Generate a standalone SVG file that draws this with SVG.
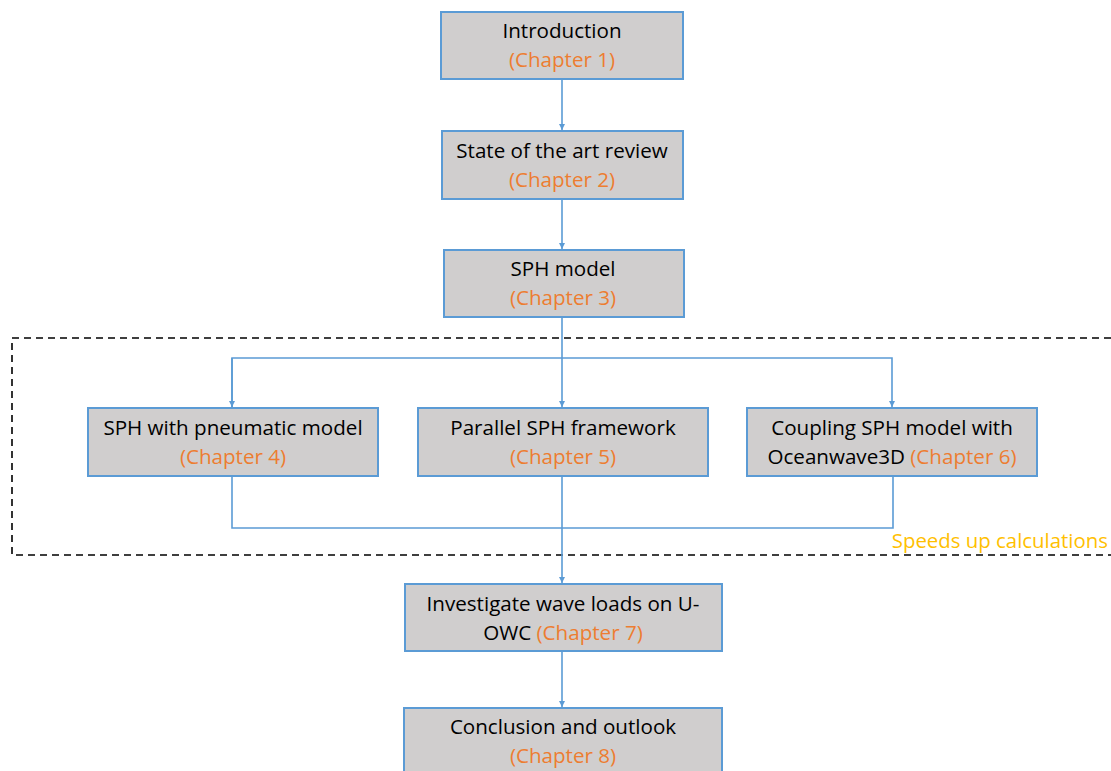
<svg xmlns="http://www.w3.org/2000/svg" width="1111" height="771" viewBox="0 0 1111 771">
<style>
.box{fill:#D0CECE;stroke:#5B9BD5;stroke-width:2}
.t{font-family:"Open Sans","Liberation Sans",sans-serif;font-size:20.6px;fill:#000;text-anchor:middle}
.o{fill:#ED7D31}
.c{fill:none;stroke:#5B9BD5;stroke-width:1.6}
</style>
<defs>
<marker id="ah" viewBox="0 0 10 10" refX="10" refY="5" markerWidth="6" markerHeight="6" markerUnits="userSpaceOnUse" orient="auto">
<path d="M0,0 L10,5 L0,10 z" fill="#5B9BD5"/>
</marker>
</defs>
<rect width="1111" height="771" fill="#fff"/>
<g id="region">
<path d="M1111,338 H12 V555 H1111" fill="none" stroke="#000" stroke-width="1.6" stroke-dasharray="7,5"/>
<text x="1108" y="548" font-family="'Open Sans','Liberation Sans',sans-serif" font-size="20.4" fill="#FFC000" text-anchor="end">Speeds up calculations</text>
</g>
<g id="connectors">
<path class="c" d="M562,79 V130" marker-end="url(#ah)"/>
<path class="c" d="M562,199 V249" marker-end="url(#ah)"/>
<path class="c" d="M562,317 V407" marker-end="url(#ah)"/>
<path class="c" d="M232,407 V358 H892 V407" marker-end="url(#ah)"/>
<path class="c" d="M232,358 V407" marker-end="url(#ah)"/>
<path class="c" d="M232,476 V528 H893 V476"/>
<path class="c" d="M562,476 V583" marker-end="url(#ah)"/>
<path class="c" d="M562,651 V707" marker-end="url(#ah)"/>
</g>
<g id="n1"><rect class="box" x="441" y="12" width="242" height="67"/><text class="t" x="562" y="38">Introduction</text><text class="t o" x="562" y="67">(Chapter 1)</text></g>
<g id="n2"><rect class="box" x="442" y="131" width="241" height="68"/><text class="t" x="562" y="158">State of the art review</text><text class="t o" x="562" y="187">(Chapter 2)</text></g>
<g id="n3"><rect class="box" x="444" y="250" width="240" height="67"/><text class="t" x="563" y="276">SPH model</text><text class="t o" x="563" y="305">(Chapter 3)</text></g>
<g id="n4"><rect class="box" x="88" y="408" width="290" height="68"/><text class="t" x="233" y="435">SPH with pneumatic model</text><text class="t o" x="233" y="464">(Chapter 4)</text></g>
<g id="n5"><rect class="box" x="418" y="408" width="290" height="68"/><text class="t" x="563" y="435">Parallel SPH framework</text><text class="t o" x="563" y="464">(Chapter 5)</text></g>
<g id="n6"><rect class="box" x="747" y="408" width="290" height="68"/><text class="t" x="892" y="435">Coupling SPH model with</text><text class="t" x="892" y="464">Oceanwave3D <tspan class="o">(Chapter 6)</tspan></text></g>
<g id="n7"><rect class="box" x="405" y="584" width="317" height="67"/><text class="t" x="563" y="611">Investigate wave loads on U-</text><text class="t" x="563" y="640">OWC <tspan class="o">(Chapter 7)</tspan></text></g>
<g id="n8"><rect class="box" x="404" y="708" width="318" height="80"/><text class="t" x="563" y="734">Conclusion and outlook</text><text class="t o" x="563" y="763">(Chapter 8)</text></g>
</svg>
